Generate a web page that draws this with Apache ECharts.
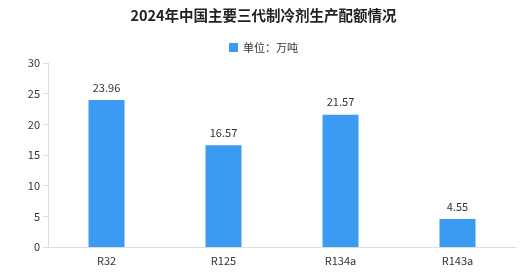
<!DOCTYPE html>
<html><head><meta charset="utf-8">
<script src="https://cdn.jsdelivr.net/npm/echarts@6/dist/echarts.min.js"></script>
<style>html,body{margin:0;padding:0;background:#fff}#c{width:527px;height:274px}</style>
</head><body><div id="c"></div>
<script>
var categories = ['R32', 'R125', 'R134a', 'R143a'];
var values = [23.96, 16.57, 21.57, 4.55];
var seriesName = '单位：万吨';
var titleText = '2024年中国主要三代制冷剂生产配额情况';
var font = '"Noto Sans CJK SC", sans-serif';
var chart = echarts.init(document.getElementById('c'));
chart.setOption({
  animation: false,
  title: {text: titleText, left: 'center', top: 3, textStyle: {fontSize: 14.5, fontWeight: 'bold', color: '#222', fontFamily: font}},
  legend: {top: 37, left: 'center', icon: 'rect', itemWidth: 9, itemHeight: 9, itemGap: 5, textStyle: {fontSize: 11, color: '#333', fontFamily: font}, data: [seriesName]},
  grid: {left: 48, right: 11, top: 63, bottom: 27},
  xAxis: {type: 'category', data: categories,
    axisLine: {lineStyle: {color: '#ddd'}}, axisTick: {lineStyle: {color: '#ddd'}},
    axisLabel: {fontSize: 11, color: '#333', fontFamily: font, margin: 8}},
  yAxis: {type: 'value', min: 0, max: 30, interval: 5,
    axisLine: {show: true, lineStyle: {color: '#ddd'}}, axisTick: {show: true, lineStyle: {color: '#ddd'}},
    splitLine: {show: false},
    axisLabel: {fontSize: 11, color: '#333', fontFamily: font}},
  series: [{name: seriesName, type: 'bar', data: values, barWidth: 36,
    itemStyle: {color: '#3b9bf3'},
    label: {show: true, position: 'top', distance: 7, fontSize: 11, color: '#333', fontFamily: font, formatter: function(p){return p.value.toFixed(2);}}}]
});
</script></body></html>
